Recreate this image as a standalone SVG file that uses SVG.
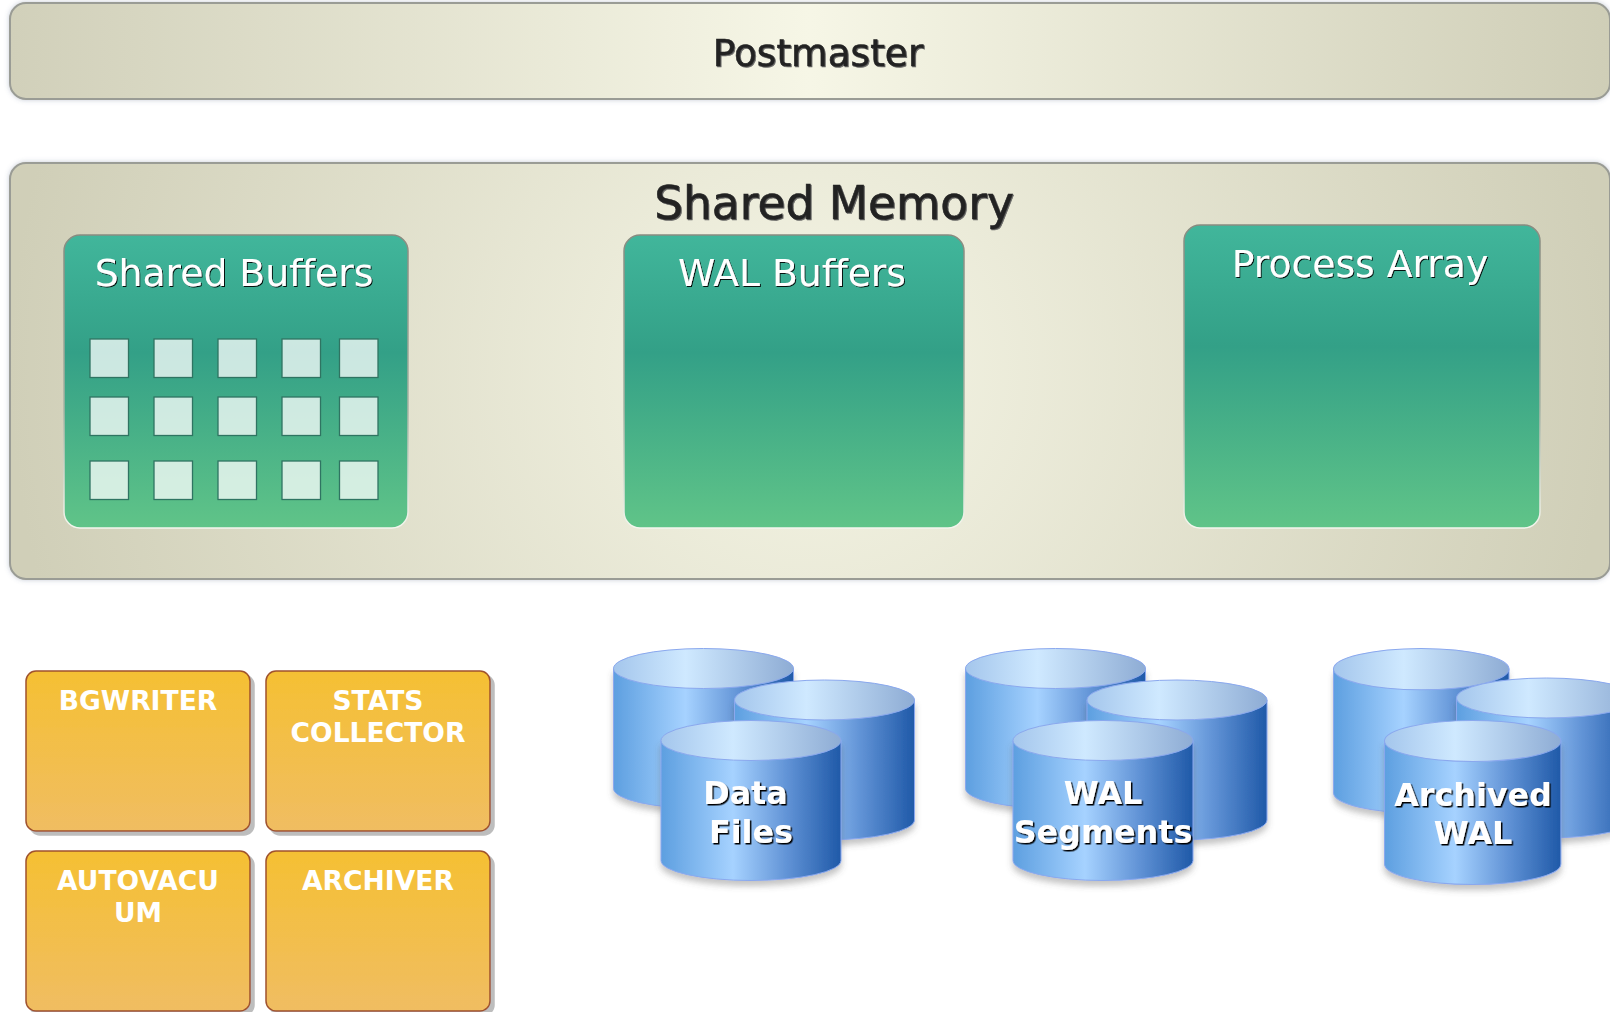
<svg xmlns="http://www.w3.org/2000/svg" width="1610" height="1012" viewBox="0 0 1610 1012">
<style>
text{font-family:"DejaVu Sans",sans-serif;text-anchor:middle}
.panel{stroke:#9a9c95;stroke-width:2;filter:url(#soft)}
.green{fill:url(#gGreen);stroke:url(#gGreenS);stroke-width:1.5}
.sq{fill:#fff;fill-opacity:.75;stroke:#2f7462;stroke-width:1.3}
.orange{fill:url(#gOrange);stroke:#a0522d;stroke-width:1.5;filter:url(#hard)}
.ol{font-size:26.600px;font-weight:bold;fill:#fff}
.gl{font-size:37.700px;fill:#fff;filter:url(#ts)}
.dk{fill:#222;stroke:#222;stroke-width:.6;filter:url(#tsd)}
.cl{font-size:31.800px;font-weight:bold;fill:#fff;filter:url(#tsb)}
.body{fill:url(#gBody);stroke:#8aa8ee;stroke-width:1}
.top{fill:url(#gTop);stroke:#8aa8ee;stroke-width:1}
</style>
<defs>
<linearGradient id="gPost" x1="0" x2="1" y1="0" y2="0"><stop offset="0" stop-color="#d1d0ba"/><stop offset=".5" stop-color="#f6f6e6"/><stop offset="1" stop-color="#cfceb7"/></linearGradient>
<radialGradient id="gMem" gradientUnits="userSpaceOnUse" cx="810" cy="371" r="800"><stop offset="0" stop-color="#f5f5e5"/><stop offset="1" stop-color="#d0cfb8"/></radialGradient>
<linearGradient id="gGreen" x1="0" x2="0" y1="0" y2="1"><stop offset="0" stop-color="#41b69b"/><stop offset=".4" stop-color="#33a087"/><stop offset="1" stop-color="#60c488"/></linearGradient>
<linearGradient id="gGreenS" x1="0" x2="0" y1="0" y2="1"><stop offset="0" stop-color="#888b80"/><stop offset=".6" stop-color="#a9b5a6"/><stop offset="1" stop-color="#f4f6ee"/></linearGradient>
<linearGradient id="gOrange" x1="0" x2="0" y1="0" y2="1"><stop offset="0" stop-color="#f5c033"/><stop offset="1" stop-color="#f0bd62"/></linearGradient>
<linearGradient id="gBody" x1="0" x2="1" y1="0" y2="0"><stop offset="0" stop-color="#5d9fe0"/><stop offset=".4" stop-color="#a6d2ff"/><stop offset=".7" stop-color="#6193d6"/><stop offset="1" stop-color="#1f59a8"/></linearGradient>
<linearGradient id="gTop" x1="0" x2="1" y1="0" y2="0"><stop offset="0" stop-color="#a4c6ec"/><stop offset=".4" stop-color="#cfe9ff"/><stop offset="1" stop-color="#8eacd4"/></linearGradient>
<filter id="soft" x="-2%" y="-10%" width="104%" height="120%"><feDropShadow dx="0" dy="0" stdDeviation="2.500" flood-color="#5a6a8a" flood-opacity=".35"/></filter>
<filter id="hard" x="-5%" y="-5%" width="110%" height="110%"><feDropShadow dx="4" dy="4" stdDeviation=".4" flood-color="#999" flood-opacity=".65"/></filter>
<filter id="cyl" x="-10%" y="-10%" width="120%" height="125%"><feDropShadow dx="0" dy="5" stdDeviation="3" flood-color="#555" flood-opacity=".35"/></filter>
<filter id="ts" x="-5%" y="-20%" width="110%" height="140%"><feDropShadow dx="1" dy="1" stdDeviation=".4" flood-color="#000" flood-opacity=".9"/></filter>
<filter id="tsb" x="-5%" y="-20%" width="110%" height="140%"><feDropShadow dx="1.500" dy="1.500" stdDeviation=".3" flood-color="#000" flood-opacity="1"/></filter>
<filter id="tsd" x="-5%" y="-20%" width="110%" height="140%"><feDropShadow dx="1" dy="1" stdDeviation=".5" flood-color="#555" flood-opacity=".9"/></filter>
<g id="can"><g filter="url(#cyl)"><path class="body" d="M0 20V140A90 20 0 0 0 180 140V20Z"/></g><ellipse class="top" cx="90" cy="20" rx="90" ry="20"/></g>
</defs>
<rect width="1610" height="1012" fill="#fff"/>
<g id="postmaster"><rect class="panel" x="10" y="3" width="1600" height="96" rx="16" fill="url(#gPost)"/><text class="dk" x="818" y="66" font-size="37.500">Postmaster</text></g>
<g id="shared-memory"><rect class="panel" x="10" y="163" width="1600" height="416" rx="16" fill="url(#gMem)"/><text class="dk" x="834" y="219" font-size="45.500">Shared Memory</text></g>
<g id="shared-buffers"><rect class="green" x="64" y="235" width="344" height="293" rx="16"/><text class="gl" x="234" y="286">Shared Buffers</text>
<g id="buffer-pages">
<rect class="sq" x="90" y="339" width="38.500" height="38.500"/><rect class="sq" x="154" y="339" width="38.500" height="38.500"/><rect class="sq" x="218" y="339" width="38.500" height="38.500"/><rect class="sq" x="282" y="339" width="38.500" height="38.500"/><rect class="sq" x="339.500" y="339" width="38.500" height="38.500"/>
<rect class="sq" x="90" y="397" width="38.500" height="38.500"/><rect class="sq" x="154" y="397" width="38.500" height="38.500"/><rect class="sq" x="218" y="397" width="38.500" height="38.500"/><rect class="sq" x="282" y="397" width="38.500" height="38.500"/><rect class="sq" x="339.500" y="397" width="38.500" height="38.500"/>
<rect class="sq" x="90" y="461" width="38.500" height="38.500"/><rect class="sq" x="154" y="461" width="38.500" height="38.500"/><rect class="sq" x="218" y="461" width="38.500" height="38.500"/><rect class="sq" x="282" y="461" width="38.500" height="38.500"/><rect class="sq" x="339.500" y="461" width="38.500" height="38.500"/>
</g></g>
<g id="wal-buffers"><rect class="green" x="624" y="235" width="340" height="293" rx="16"/><text class="gl" x="792" y="286">WAL Buffers</text></g>
<g id="process-array"><rect class="green" x="1184" y="225" width="356" height="303" rx="16"/><text class="gl" x="1360" y="277">Process Array</text></g>
<g id="bgwriter"><rect class="orange" x="26" y="671" width="224" height="160" rx="10"/><text class="ol" x="138" y="710">BGWRITER</text></g>
<g id="stats-collector"><rect class="orange" x="266" y="671" width="224" height="160" rx="10"/><text class="ol" x="378" y="710">STATS</text><text class="ol" x="378" y="742">COLLECTOR</text></g>
<g id="autovacuum"><rect class="orange" x="26" y="851" width="224" height="160" rx="10"/><text class="ol" x="138" y="890">AUTOVACU</text><text class="ol" x="138" y="922">UM</text></g>
<g id="archiver"><rect class="orange" x="266" y="851" width="224" height="160" rx="10"/><text class="ol" x="378" y="890">ARCHIVER</text></g>
<g id="data-files"><use href="#can" x="613.500" y="648.500"/><use href="#can" x="734.500" y="680"/><use href="#can" x="661" y="720.500"/><text class="cl" x="745.500" y="804">Data</text><text class="cl" x="751" y="843">Files</text></g>
<g id="wal-segments"><use href="#can" x="965.500" y="648.500"/><use href="#can" x="1087" y="680"/><use href="#can" x="1013" y="720.500"/><text class="cl" x="1103" y="804">WAL</text><text class="cl" x="1103" y="843">Segments</text></g>
<g id="archived-wal"><use href="#can" transform="translate(1333.500 648.500) scale(.975 1.03)"/><use href="#can" x="1456.500" y="678"/><use href="#can" transform="translate(1384.500 720.500) scale(.98 1.025)"/><text class="cl" x="1473" y="806">Archived</text><text class="cl" x="1473" y="844">WAL</text></g>
</svg>
